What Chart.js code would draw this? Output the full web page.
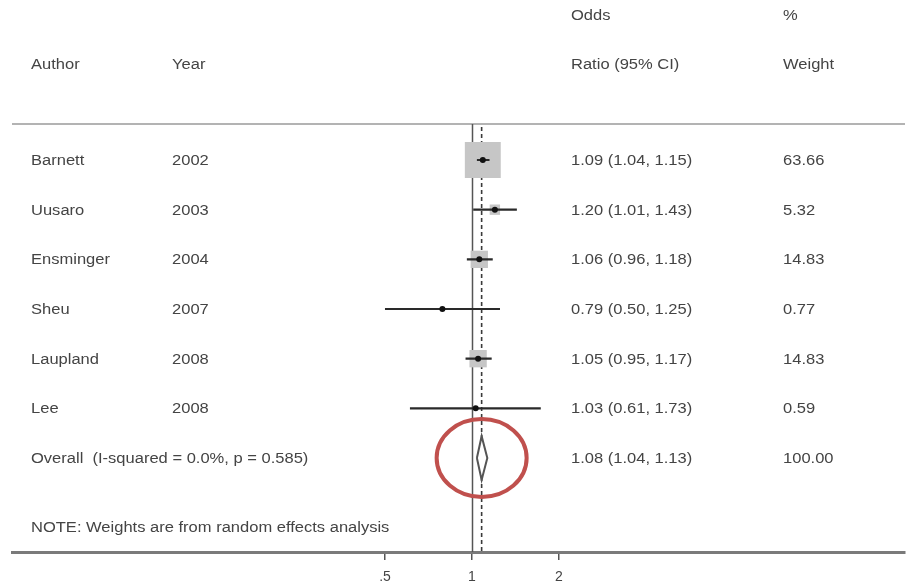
<!DOCTYPE html>
<html>
<head>
<meta charset="utf-8">
<title>Forest plot</title>
<script src="https://cdn.jsdelivr.net/npm/chart.js@4.4.1/dist/chart.umd.min.js"></script>
<style>
  html, body { margin: 0; padding: 0; background: #ffffff; }
  canvas { display: block; }
</style>
</head>
<body>
<canvas id="forest" width="908" height="584"></canvas>
<script>
// Study-level results (odds ratios with 95% CI and random-effects weights)
const authors = ['Barnett', 'Uusaro', 'Ensminger', 'Sheu', 'Laupland', 'Lee'];
const years = [2002, 2003, 2004, 2007, 2008, 2008];
const oddsRatio = [1.09, 1.20, 1.06, 0.79, 1.05, 1.03];
const ciLow = [1.04, 1.01, 0.96, 0.50, 0.95, 0.61];
const ciHigh = [1.15, 1.43, 1.18, 1.25, 1.17, 1.73];
const weights = [63.66, 5.32, 14.83, 0.77, 14.83, 0.59];

// Pooled estimate
const overallOR = 1.08;
const overallLow = 1.04;
const overallHigh = 1.13;
const overallWeight = 100.00;
const overallLabel = 'Overall  (I-squared = 0.0%, p = 0.585)';
const noteText = 'NOTE: Weights are from random effects analysis';

// Axis ticks
const tickValues = [0.5, 1, 2];
const tickLabels = ['.5', '1', '2'];

// Styling constants
const TEXT_FONT = '14px "Liberation Sans", Arial, sans-serif';
const TEXT_COLOR = '#444444';
const TEXT_STRETCH = 1.18;      // wide horizontal rendering of the table text
const TEXT_NUDGE = 1;           // vertical nudge so glyphs sit centred on the row
const BOX_SCALE = 4.5;          // box side in px per sqrt(weight)
const DIAMOND_HALF = 0.44;      // diamond half-height in row units
const COL_AUTHOR = 31, COL_YEAR = 172, COL_CI = 571, COL_WEIGHT = 783;

const overallRow = authors.length;

// CI segments as one line dataset separated by gaps
const ciSegments = [];
authors.forEach((_, i) => {
  ciSegments.push({ x: ciLow[i], y: i });
  ciSegments.push({ x: ciHigh[i], y: i });
  ciSegments.push({ x: ciHigh[i], y: null });
});

const estimatePoints = oddsRatio.map((v, i) => ({ x: v, y: i }));

const diamond = [
  { x: overallLow, y: overallRow },
  { x: overallOR, y: overallRow - DIAMOND_HALF },
  { x: overallHigh, y: overallRow },
  { x: overallOR, y: overallRow + DIAMOND_HALF },
  { x: overallLow, y: overallRow }
];

const fmt = v => v.toFixed(2);

function drawText(ctx, text, x, y) {
  ctx.save();
  ctx.translate(x, y + TEXT_NUDGE);
  ctx.scale(TEXT_STRETCH, 1);
  ctx.fillText(text, 0, 0);
  ctx.restore();
}

const forestDecor = {
  id: 'forestDecor',
  beforeDatasetsDraw(chart) {
    const { ctx, chartArea, scales } = chart;
    const x = scales.x;
    ctx.save();
    // top rule under the header
    ctx.strokeStyle = '#9a9a9a';
    ctx.lineWidth = 1.5;
    ctx.beginPath();
    ctx.moveTo(chartArea.left, chartArea.top);
    ctx.lineTo(chartArea.right, chartArea.top);
    ctx.stroke();
    // line of no effect
    const x1 = Math.round(x.getPixelForValue(1)) + 0.5;
    ctx.strokeStyle = '#555555';
    ctx.lineWidth = 1.5;
    ctx.beginPath();
    ctx.moveTo(x1, chartArea.top);
    ctx.lineTo(x1, chartArea.bottom);
    ctx.stroke();
    // pooled estimate reference line
    const xo = x.getPixelForValue(overallOR);
    ctx.setLineDash([4, 3]);
    ctx.strokeStyle = '#3a3a3a';
    ctx.lineWidth = 1.6;
    ctx.beginPath();
    ctx.moveTo(xo, chartArea.top + 3);
    ctx.lineTo(xo, chartArea.bottom);
    ctx.stroke();
    ctx.restore();
  },
  afterDatasetsDraw(chart) {
    const { ctx, scales } = chart;
    const cx = scales.x.getPixelForValue(overallOR);
    const cy = scales.y.getPixelForValue(overallRow);
    ctx.save();
    ctx.strokeStyle = '#c0504d';
    ctx.lineWidth = 4;
    ctx.beginPath();
    ctx.ellipse(cx, cy, 45, 39, 0, 0, Math.PI * 2);
    ctx.stroke();
    ctx.restore();
  },
  afterDraw(chart) {
    const { ctx, scales } = chart;
    const y = scales.y;
    ctx.save();
    ctx.font = TEXT_FONT;
    ctx.fillStyle = TEXT_COLOR;
    ctx.textBaseline = 'middle';
    ctx.textAlign = 'left';
    // header
    drawText(ctx, 'Odds', COL_CI, 15);
    drawText(ctx, '%', COL_WEIGHT, 15);
    drawText(ctx, 'Author', COL_AUTHOR, 64);
    drawText(ctx, 'Year', COL_YEAR, 64);
    drawText(ctx, 'Ratio (95% CI)', COL_CI, 64);
    drawText(ctx, 'Weight', COL_WEIGHT, 64);
    // study rows
    authors.forEach((name, i) => {
      const py = y.getPixelForValue(i);
      drawText(ctx, name, COL_AUTHOR, py);
      drawText(ctx, String(years[i]), COL_YEAR, py);
      drawText(ctx, fmt(oddsRatio[i]) + ' (' + fmt(ciLow[i]) + ', ' + fmt(ciHigh[i]) + ')', COL_CI, py);
      drawText(ctx, fmt(weights[i]), COL_WEIGHT, py);
    });
    // pooled row
    const po = y.getPixelForValue(overallRow);
    drawText(ctx, overallLabel, COL_AUTHOR, po);
    drawText(ctx, fmt(overallOR) + ' (' + fmt(overallLow) + ', ' + fmt(overallHigh) + ')', COL_CI, po);
    drawText(ctx, fmt(overallWeight), COL_WEIGHT, po);
    // footnote
    drawText(ctx, noteText, COL_AUTHOR, y.getPixelForValue(overallRow + 1.39));
    ctx.restore();
  }
};

new Chart(document.getElementById('forest'), {
  data: {
    datasets: [
      {
        type: 'scatter',
        label: 'Weight boxes',
        data: estimatePoints,
        pointStyle: 'rect',
        pointRadius: ctx => BOX_SCALE * Math.sqrt(weights[ctx.dataIndex]) / Math.SQRT2,
        pointHoverRadius: ctx => BOX_SCALE * Math.sqrt(weights[ctx.dataIndex]) / Math.SQRT2,
        backgroundColor: '#c6c6c6',
        borderWidth: 0,
        order: 4
      },
      {
        type: 'line',
        label: 'CI',
        data: ciSegments,
        borderColor: '#2a2a2a',
        borderWidth: 2.2,
        pointRadius: 0,
        spanGaps: false,
        tension: 0,
        fill: false,
        order: 3
      },
      {
        type: 'line',
        label: 'Pooled',
        data: diamond,
        borderColor: '#555555',
        borderWidth: 2,
        backgroundColor: '#ffffff',
        fill: 'shape',
        pointRadius: 0,
        tension: 0,
        order: 2
      },
      {
        type: 'scatter',
        label: 'Estimate',
        data: estimatePoints,
        pointStyle: 'circle',
        pointRadius: 3,
        backgroundColor: '#111111',
        borderWidth: 0,
        order: 1
      }
    ]
  },
  options: {
    responsive: false,
    devicePixelRatio: 1,
    animation: false,
    events: [],
    layout: { autoPadding: false, padding: { top: 124, left: 12, right: 3, bottom: 0 } },
    plugins: { legend: { display: false }, tooltip: { enabled: false } },
    scales: {
      x: {
        type: 'logarithmic',
        position: 'bottom',
        min: 0.02561,
        max: 31.5,
        bounds: 'data',
        afterBuildTicks: s => { s.ticks = tickValues.map(v => ({ value: v })); },
        afterFit: s => {
          s.height = 32;
          s.paddingLeft = 0;
          s.paddingRight = 0;
          s.paddingTop = 0;
          s.paddingBottom = 0;
        },
        ticks: {
          autoSkip: false,
          maxRotation: 0,
          padding: 9,
          color: '#444444',
          font: { family: '"Liberation Sans", Arial, sans-serif', size: 14 },
          callback: (value) => {
            const k = tickValues.indexOf(value);
            return k >= 0 ? tickLabels[k] : '';
          }
        },
        grid: {
          display: true,
          drawOnChartArea: false,
          drawTicks: true,
          tickLength: 8,
          color: '#555555',
          lineWidth: 1.5
        },
        border: { display: true, color: '#7a7a7a', width: 3 }
      },
      y: {
        type: 'linear',
        display: false,
        reverse: true,
        min: -0.725,
        max: 7.892
      }
    }
  },
  plugins: [forestDecor]
});
</script>
</body>
</html>
